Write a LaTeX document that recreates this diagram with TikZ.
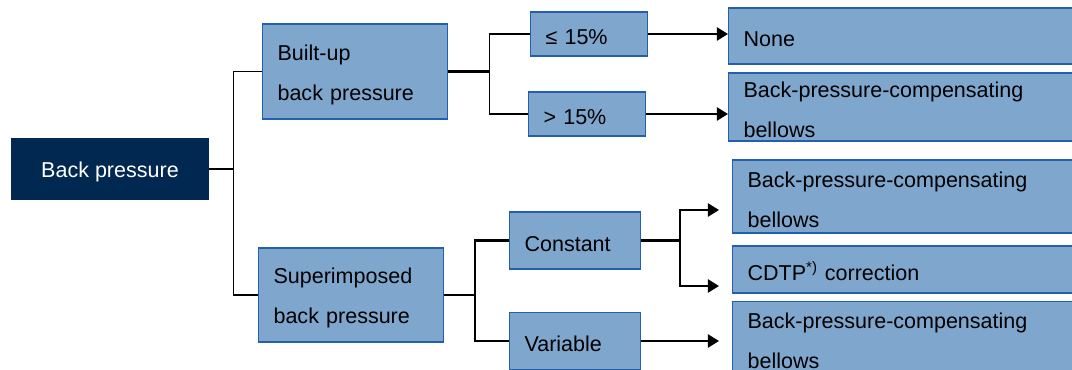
\documentclass[tikz,border=0pt]{standalone}
\usepackage{fontspec}
\setmainfont{Liberation Sans}
\usepackage{xcolor}
\usepackage{tikz}
\usetikzlibrary{arrows.meta,positioning}

\definecolor{boxfill}{RGB}{127,167,206}
\definecolor{boxline}{RGB}{35,95,175}
\definecolor{rootfill}{RGB}{0,40,80}

\begin{document}
\begin{tikzpicture}[
    x=0.025cm, y=-0.025cm,
    box/.style={rectangle, draw=boxline, fill=boxfill, line width=0.8pt, inner xsep=0.375cm, inner ysep=0pt, align=left, anchor=west, font=\fontsize{15.3}{28.45}\selectfont, execute at begin node={\rule{0pt}{1em}}},
    root/.style={rectangle, fill=rootfill, text=white, minimum width=4.95cm, minimum height=1.55cm, font=\fontsize{15.3}{18}\selectfont, execute at begin node={\rule{0pt}{1em}}},
    link/.style={line width=0.9pt},
    fork/.style={line width=1.6pt},
    arrow/.style={-{Triangle[length=0.28cm, width=0.33cm]}, line width=1.6pt}
]
\useasboundingbox (0,0) rectangle (1072,369);
\clip (0,0) rectangle (1072,369);

\node[root] (back) at (110,169) {Back pressure};
\node[box, text width=3.875cm, minimum height=2.375cm] (builtup) at (262,71.5) {Built-up\\back pressure};
\node[box, text width=3.875cm, minimum height=2.35cm] (superimp) at (258,295) {Superimposed\\back pressure};
\node[box, text width=2.175cm, minimum height=1.1cm] (low) at (530,34) {≤ 15\%};
\node[box, text width=2.175cm, minimum height=1.1cm] (high) at (528,114) {> 15\%};
\node[box, text width=2.525cm, minimum height=1.425cm] (const) at (509,240.5) {Constant};
\node[box, text width=2.525cm, minimum height=1.425cm] (var) at (509,341) {Variable};
\node[box, text width=8.3cm, minimum height=1.4cm] (none) at (728,36) {None};
\node[box, text width=8.3cm, minimum height=1.7cm] (bellowsA) at (728,107) {Back-pressure-compensating\\bellows};
\node[box, text width=8.3cm, minimum height=1.825cm] (bellowsB) at (732,196.5) {Back-pressure-compensating\\bellows};
\node[box, text width=8.3cm, minimum height=1.175cm] (cdtp) at (732,269.5) {CDTP\textsuperscript{*)} correction};
\node[box, text width=8.3cm, minimum height=1.825cm] (bellowsC) at (732,338) {Back-pressure-compensating\\bellows};

\coordinate (toB) at (719,210);
\coordinate (toC) at (719,286);

\draw[link] (back.east) -- ++(24,0) coordinate (j1);
\draw[link] (builtup.west) -| (j1) |- (superimp.west);
\draw[fork] (builtup.east) -- ++(41,0) coordinate (j2);
\draw[link] (low.west) -| (j2) |- (high.west);
\draw[fork] (superimp.east) -- ++(31,0) coordinate (j3);
\draw[fork] (const.west) -| (j3) |- (var.west);
\draw[arrow] (low.east) -- (low.east -| none.west);
\draw[arrow] (high.east) -- (high.east -| bellowsA.west);
\draw[fork] (const.east) -- ++(39,0) coordinate (j4);
\draw[arrow] (j4) |- (toB);
\draw[arrow] (j4) |- (toC);
\draw[arrow] (var.east) -- (var.east -| toB);
\end{tikzpicture}
\end{document}
